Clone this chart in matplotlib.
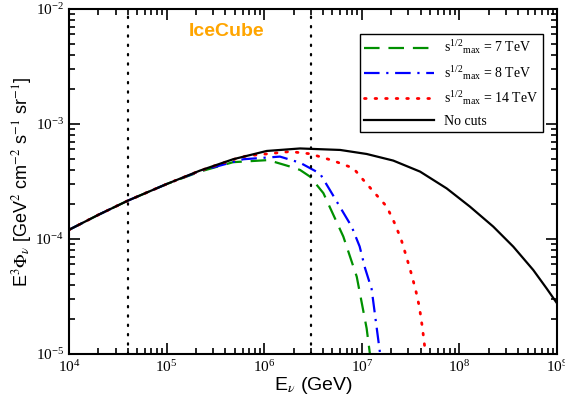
import matplotlib
matplotlib.use("Agg")
import matplotlib.pyplot as plt

# Energy (GeV) and E^3 * flux values
e_nocut = [1e4, 2e4, 4e4, 1e5, 2.2e5, 4.8e5, 1.06e6, 2.33e6, 6e6, 1.12e7, 2.1e7, 3.95e7,
           7.4e7, 1.28e8, 2.22e8, 3.56e8, 5.7e8, 7.8e8, 1e9]
f_nocut = [1.2e-4, 1.62e-4, 2.15e-4, 3.0e-4, 3.93e-4, 4.93e-4, 5.82e-4, 6.12e-4, 5.94e-4,
           5.48e-4, 4.8e-4, 3.85e-4, 2.75e-4, 1.91e-4, 1.28e-4, 8.57e-5, 5.37e-5, 3.72e-5, 2.75e-5]

e_14 = [1e4, 2e4, 4e4, 1e5, 2.2e5, 4.8e5, 6.6e5, 1.84e6, 2.95e6, 5.1e6, 8.2e6, 1.035e7,
        1.36e7, 1.8e7, 2.15e7, 2.52e7, 2.84e7, 3.19e7, 3.56e7, 3.88e7, 4.17e7, 4.5e7]
f_14 = [1.2e-4, 1.62e-4, 2.15e-4, 3.0e-4, 3.92e-4, 4.9e-4, 5.27e-4, 5.75e-4, 5.5e-4, 4.79e-4,
        4.12e-4, 3.26e-4, 2.5e-4, 1.91e-4, 1.39e-4, 1e-4, 7.16e-5, 5.1e-5, 3.6e-5, 2.58e-5,
        1.7e-5, 1e-5]

e_8 = [1e4, 2e4, 4e4, 1e5, 2.2e5, 6.1e5, 1.45e6, 2.33e6, 3.73e6, 4.7e6, 7.87e6, 9.5e6,
       1.08e7, 1.26e7, 1.4e7, 1.54e7]
f_8 = [1.2e-4, 1.62e-4, 2.15e-4, 3.0e-4, 3.9e-4, 4.93e-4, 5.2e-4, 4.6e-4, 3.7e-4, 2.67e-4,
       1.28e-4, 8.6e-5, 5.56e-5, 3.67e-5, 1.85e-5, 1e-5]

e_7 = [1e4, 2e4, 4e4, 1e5, 2.2e5, 4.8e5, 1.1e6, 1.84e6, 2.33e6, 2.95e6, 4.04e6, 6.46e6,
       8.87e6, 1.12e7, 1.21e7]
f_7 = [1.2e-4, 1.62e-4, 2.15e-4, 3.0e-4, 3.85e-4, 4.65e-4, 4.85e-4, 4.26e-4, 3.98e-4, 3.48e-4,
       2.5e-4, 1.05e-4, 4.7e-5, 1.67e-5, 1e-5]

cut_lines = [4e4, 3e6]

plt.rcParams['mathtext.fontset'] = 'stix'

fig = plt.figure(figsize=(5.65, 4.05), dpi=100)
ax = fig.add_axes([0.122, 0.126, 0.864, 0.852])

serif = 'Liberation Serif'
sans = 'Liberation Sans'

ax.plot(e_7, f_7, color='#009000', lw=1.6, dashes=(7, 4), label=r'$\mathregular{s^{1/2}}$$_{\mathregular{max}}$ = 7 TeV')
ax.plot(e_8, f_8, color='#0000ff', lw=1.6, dashes=(7, 3, 1, 3), label=r'$\mathregular{s^{1/2}}$$_{\mathregular{max}}$ = 8 TeV')
ax.plot(e_14, f_14, color='#ff0000', lw=2, linestyle=(0, (0.6, 3.2)), dash_capstyle='round',
        label=r'$\mathregular{s^{1/2}}$$_{\mathregular{max}}$ = 14 TeV')
ax.plot(e_nocut, f_nocut, color='black', lw=1.6, label='No cuts')

for xc in cut_lines:
    ax.axvline(xc, color='black', lw=1.6, linestyle=(0, (0.6, 3.6)), dash_capstyle='round')

ax.set_xscale('log')
ax.set_yscale('log')
ax.set_xlim(1e4, 1e9)
ax.set_ylim(1e-5, 1e-2)

ax.text(4.1e5, 6.3e-3, 'IceCube', color='#ffa500', fontsize=14, fontweight='bold',
        family=sans, ha='center', va='center')

ax.tick_params(which='both', direction='in', top=True, right=True, width=1.2)
ax.tick_params(which='major', length=8, labelsize=11)
ax.tick_params(which='minor', length=4)
for lab in ax.get_xticklabels() + ax.get_yticklabels():
    lab.set_family(serif)
for sp in ax.spines.values():
    sp.set_linewidth(1.5)

ax.set_xlabel(r'E$_\nu$ (GeV)', family=sans, fontsize=14, labelpad=0)
ax.set_ylabel(r'E$^3$$\Phi_\nu$ [GeV$^2$ cm$^{-2}$ s$^{-1}$ sr$^{-1}$]', family=sans, fontsize=13, labelpad=1)

leg = ax.legend(loc='upper right', bbox_to_anchor=(0.971, 0.928), borderaxespad=0,
                prop={'family': serif, 'size': 10},
                handlelength=5.0, frameon=True, fancybox=False, framealpha=1,
                borderpad=0.35, labelspacing=0.55, handletextpad=0.7)
leg.get_frame().set_edgecolor('black')
leg.get_frame().set_linewidth(1.0)

fig.savefig('out.png', dpi=100)
